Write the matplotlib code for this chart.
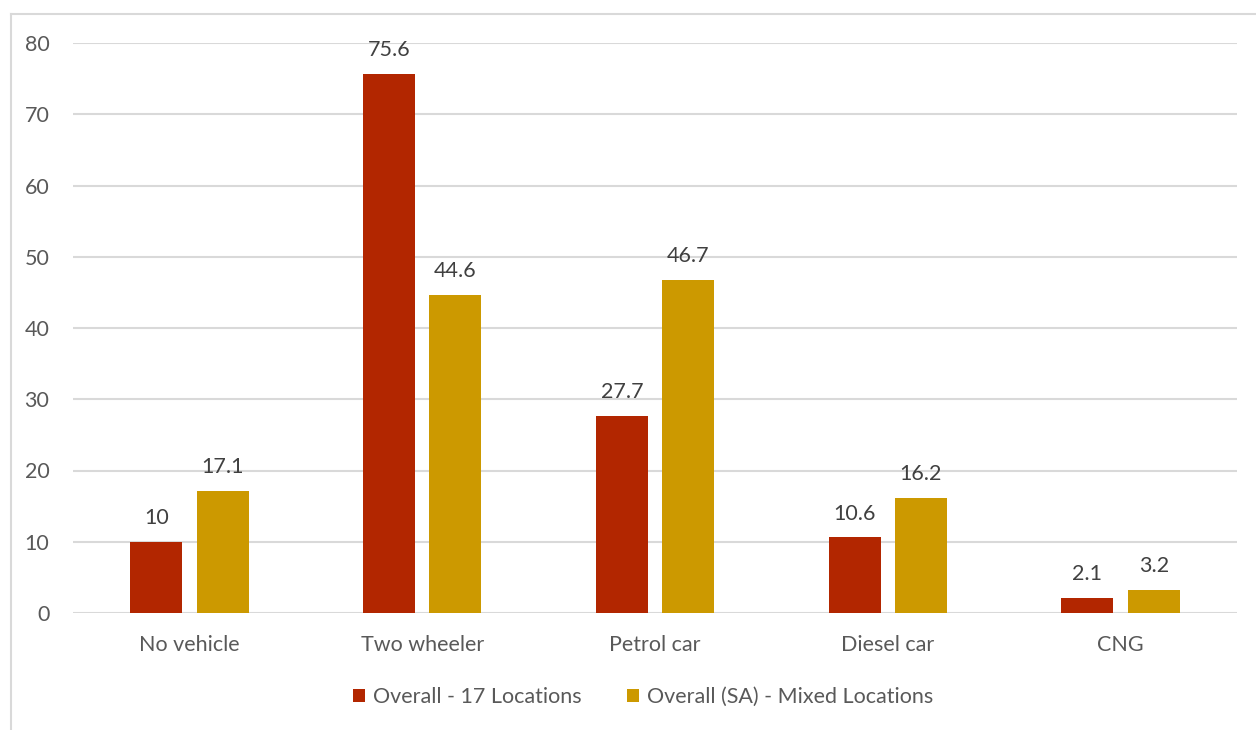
import matplotlib
matplotlib.use("Agg")
import matplotlib.pyplot as plt
import numpy as np
from matplotlib.lines import Line2D

categories = ["No vehicle", "Two wheeler", "Petrol car", "Diesel car", "CNG"]
overall_17 = [10, 75.6, 27.7, 10.6, 2.1]
overall_sa = [17.1, 44.6, 46.7, 16.2, 3.2]
label_17 = ["10", "75.6", "27.7", "10.6", "2.1"]
label_sa = ["17.1", "44.6", "46.7", "16.2", "3.2"]
series_names = ["Overall - 17 Locations", "Overall (SA) - Mixed Locations"]
y_ticks = [0, 10, 20, 30, 40, 50, 60, 70, 80]

RED = "#B22600"
GOLD = "#CC9900"
TICK_COLOR = "#595959"
LABEL_COLOR = "#404040"
GRID_COLOR = "#D9D9D9"
FS = 15.5

plt.rcParams["font.family"] = ["Lato", "DejaVu Sans"]

fig = plt.figure(figsize=(12.56, 7.3), dpi=100)
ax = fig.add_axes([73 / 1256, 1 - 613 / 730, 1164 / 1256, 570 / 730])

# chart frame (cut at the right and bottom edges of the picture)
fig.add_artist(Line2D([11 / 1256, 11 / 1256], [0, 1 - 14 / 730],
                      transform=fig.transFigure, color=GRID_COLOR, lw=1.5))
fig.add_artist(Line2D([11 / 1256, 1], [1 - 14 / 730, 1 - 14 / 730],
                      transform=fig.transFigure, color=GRID_COLOR, lw=1.5))

x = np.arange(len(categories))
width = 0.223
offset = 0.1425

bars1 = ax.bar(x - offset, overall_17, width, color=RED, label=series_names[0], zorder=3)
bars2 = ax.bar(x + offset, overall_sa, width, color=GOLD, label=series_names[1], zorder=3)

for bars, texts in ((bars1, label_17), (bars2, label_sa)):
    for bar, txt in zip(bars, texts):
        ax.annotate(txt, (bar.get_x() + bar.get_width() / 2, bar.get_height()),
                    xytext=(0, 10), textcoords="offset points", ha="center", va="bottom",
                    fontsize=FS, color=LABEL_COLOR)

ax.set_xlim(-0.5, len(categories) - 0.5)
ax.set_ylim(0, 80)
ax.set_yticks(y_ticks)
ax.set_xticks(x)
ax.set_xticklabels(categories)
ax.tick_params(axis="both", length=0, labelsize=FS, colors=TICK_COLOR)
ax.tick_params(axis="y", pad=17)
ax.tick_params(axis="x", pad=16)

ax.grid(True, axis="y", color=GRID_COLOR, lw=1.5, zorder=0)
for s in ax.spines.values():
    s.set_visible(False)

leg = fig.legend(loc="center", bbox_to_anchor=(643 / 1256, 1 - 697 / 730), ncol=2,
                 frameon=False, fontsize=FS, handlelength=0.56, handleheight=0.56,
                 handletextpad=0.37, columnspacing=2.1)
for t in leg.get_texts():
    t.set_color(TICK_COLOR)

fig.savefig("out.png", dpi=100)
